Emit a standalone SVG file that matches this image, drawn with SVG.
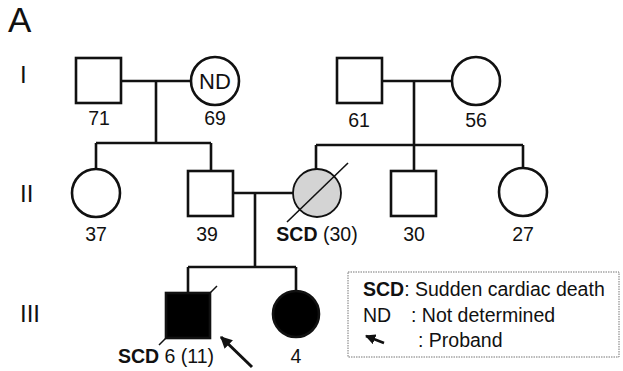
<svg xmlns="http://www.w3.org/2000/svg" width="623" height="371" viewBox="0 0 623 371">
<style>
text{font-family:"Liberation Sans",Arial,sans-serif;fill:#111}
.lbl{font-size:19.5px;text-anchor:middle}
.gen{font-size:24px}
.leg{font-size:19.5px}
.b{font-weight:bold}
.sym{fill:#fff;stroke:#111;stroke-width:2.6}
.aff{fill:#000;stroke:#111;stroke-width:2.6}
.ln{fill:none;stroke:#111;stroke-width:2.6}
</style>
<defs>
<marker id="ah" viewBox="0 0 10 10" refX="9" refY="5" markerWidth="4" markerHeight="4" orient="auto" markerUnits="strokeWidth">
<path d="M0,0 L10,5 L0,10 Z" fill="#111"/>
</marker>
</defs>
<text x="8" y="32" style="font-size:35px">A</text>
<text class="gen" x="20" y="83">I</text>
<text class="gen" x="20" y="202">II</text>
<text class="gen" x="20" y="322">III</text>
<g id="connectors">
<path class="ln" d="M121,81 H191 M156,81 V143 M96,143 H211 M96,143 V169 M211,143 V171"/>
<path class="ln" d="M382,81 H452 M414,81 V145 M316,145 H523 M316,145 V169 M414,145 V171 M523,145 V168"/>
<path class="ln" d="M233,193 H293 M255,193 V267 M188,267 H296 M188,267 V293 M296,267 V290"/>
</g>
<g id="I-1"><rect class="sym" x="76" y="58" width="45" height="45"/><text class="lbl" x="99" y="125">71</text></g>
<g id="I-2"><circle class="sym" cx="215" cy="81" r="24"/><text class="lbl" x="215" y="89" style="font-size:22px">ND</text><text class="lbl" x="215" y="125">69</text></g>
<g id="I-3"><rect class="sym" x="337" y="58" width="45" height="45"/><text class="lbl" x="359" y="127">61</text></g>
<g id="I-4"><circle class="sym" cx="476" cy="81" r="24"/><text class="lbl" x="476" y="127">56</text></g>
<g id="II-1"><circle class="sym" cx="96" cy="193" r="24"/><text class="lbl" x="96" y="241">37</text></g>
<g id="II-2"><rect class="sym" x="188" y="171" width="45" height="45"/><text class="lbl" x="207" y="241">39</text></g>
<g id="II-3"><circle cx="317" cy="193" r="24" fill="#d4d4d4" stroke="#111" stroke-width="1.8"/><line x1="348" y1="163" x2="287" y2="222" stroke="#111" stroke-width="1.6"/><text class="lbl" x="317" y="241"><tspan class="b">SCD</tspan> (30)</text></g>
<g id="II-4"><rect class="sym" x="391" y="171" width="45" height="45"/><text class="lbl" x="414" y="241">30</text></g>
<g id="II-5"><circle class="sym" cx="523" cy="192" r="24"/><text class="lbl" x="523" y="241">27</text></g>
<g id="III-1"><rect class="aff" x="166" y="293" width="44" height="45"/><path d="M159,345 L167,337 M209,294 L217,286" stroke="#111" stroke-width="1.5" fill="none"/><text class="lbl" x="166" y="363"><tspan class="b">SCD</tspan> 6 (11)</text></g>
<g id="III-2"><circle class="aff" cx="296" cy="314" r="23"/><text class="lbl" x="296" y="363">4</text></g>
<g id="proband-arrow"><line x1="252" y1="367" x2="221" y2="337" stroke="#111" stroke-width="3" marker-end="url(#ah)"/></g>
<g id="legend">
<rect x="348" y="272" width="271" height="85" fill="#fff" stroke="#777" stroke-width="1" stroke-dasharray="1.5 1"/>
<text class="leg" x="363" y="296"><tspan class="b">SCD</tspan>: Sudden cardiac death</text>
<text class="leg" x="363" y="322">ND</text>
<text class="leg" x="411" y="322">: Not determined</text>
<line x1="384" y1="343" x2="366" y2="336" stroke="#111" stroke-width="2.6" marker-end="url(#ah)"/>
<text class="leg" x="418" y="347">: Proband</text>
</g>
</svg>
